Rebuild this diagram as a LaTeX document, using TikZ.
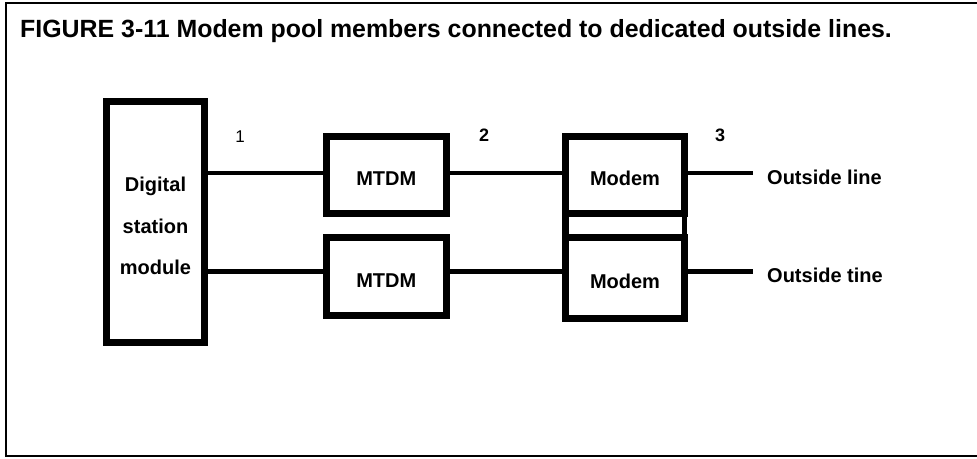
\documentclass[tikz,border=0pt]{standalone}
\usepackage{fontspec}
\setmainfont{Liberation Sans}
\begin{document}
\begin{tikzpicture}[x=1pt,y=-1pt,
  unit/.style={draw, line width=7pt, inner sep=0pt, outer sep=0pt, rectangle},
  unittext/.style={font=\bfseries\fontsize{20}{24}\selectfont, text height=21pt, text depth=0pt},
  wire/.style={line width=4.5pt},
  frame/.style={line width=2.5pt},
  lbl/.style={font=\bfseries\fontsize{20}{24}\selectfont, inner sep=0pt},
  num/.style={font=\bfseries\fontsize{18}{20}\selectfont, inner sep=0pt}]
\useasboundingbox (0,0) rectangle (977,458);

% outer frame, open on the right
\draw[frame] (977,3) -- (6,3) -- (6,456) -- (977,456);

% caption
\node[anchor=base west, inner sep=0pt, font=\bfseries\fontsize{24.9}{28}\selectfont]
  (title) at (20,37) {FIGURE 3-11 Modem pool members connected to dedicated outside lines.};

% digital station module
\node[unit, minimum width=98pt, minimum height=241pt] (dsm) at (155.5,222) {};
\node[lbl, align=center, font=\bfseries\fontsize{20}{41.7}\selectfont] (dsmtext) at (155.5,226) {Digital\\station\\module};

% MTDM units
\node[unit, unittext, minimum width=120.5pt, minimum height=77.5pt] (mtdmA) at (386.3,174.8) {MTDM};
\node[unit, unittext, minimum width=120.5pt, minimum height=78pt] (mtdmB) at (386.3,276.5) {MTDM};

% modem pair
\node[unit, unittext, minimum width=119pt, minimum height=77pt] (modemA) at (625,175) {Modem};
\node[unit, unittext, minimum width=119pt, minimum height=81.5pt] (modemB) at (625,277.75) {Modem};
\draw[line width=7pt] (modemA.south west) -- (modemB.north west);
\draw[line width=5pt] (modemA.south east) -- (modemB.north east);

% line rows
\coordinate (rowA) at (0,173);
\coordinate (rowB) at (0,271.5);
\coordinate (outA) at (753,173);
\coordinate (outB) at (753,271.5);

\draw[wire] (dsm.east |- rowA) -- (mtdmA.west |- rowA);
\draw[wire] (dsm.east |- rowB) -- (mtdmB.west |- rowB);
\draw[wire] (mtdmA.east |- rowA) -- (modemA.west |- rowA);
\draw[wire] (mtdmB.east |- rowB) -- (modemB.west |- rowB);
\draw[wire] (modemA.east |- rowA) -- (outA);
\draw[wire] (modemB.east |- rowB) -- (outB);

% outside line labels
\node[lbl, anchor=base west] (olA) at (767,184) {Outside line};
\node[lbl, anchor=base west] (olB) at (767,282) {Outside tine};

% point numbers
\node[inner sep=0pt, font=\fontsize{17}{19}\selectfont] (p1) at (240,136.5) {1};
\node[num] (p2) at (484,135) {2};
\node[num] (p3) at (720,135) {3};
\end{tikzpicture}
\end{document}
